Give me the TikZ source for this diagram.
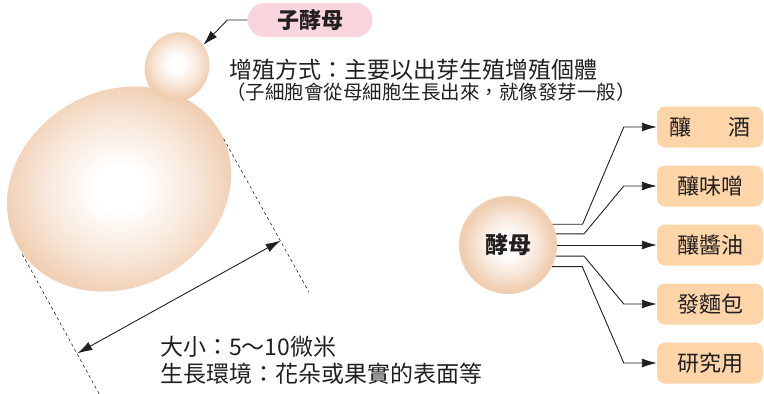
\documentclass[tikz,border=0pt]{standalone}
\usepackage{fontspec}
\setmainfont{Noto Sans CJK TC}
\usepackage{xcolor}
\usetikzlibrary{arrows.meta, positioning, shapes.geometric, calc}
\definecolor{peach}{RGB}{240,206,178}
\colorlet{peachmid}{peach!50!white}
\definecolor{pinkpill}{RGB}{249,213,222}
\definecolor{boxorange}{RGB}{253,213,168}
\definecolor{ink}{RGB}{35,31,32}
\pgfdeclareradialshading{cellball}{\pgfpoint{0bp}{0bp}}{color(0bp)=(white); color(5bp)=(white); color(15bp)=(peachmid); color(23bp)=(peach); color(50bp)=(peach)}

\begin{document}
\begin{tikzpicture}[x=1pt, y=-1pt,
  cell/.style={ellipse, inner sep=0pt, shade, shading=cellball},
  note/.style={anchor=west, inner sep=0pt, text=ink},
  usebox/.style={rounded corners=8pt, fill=boxorange, minimum width=106pt, minimum height=41pt, inner sep=0pt, text=ink, font=\fontsize{22}{26}\selectfont},
  flow/.style={-{Latex[length=15pt, width=9pt]}, line width=0.9pt, draw=ink}]
\useasboundingbox (0,0) rectangle (764,394);

% mother cell and bud
\node[cell, rotate=29, minimum width=232pt, minimum height=196pt] (mother) at (119,189) {};
\node[cell, rotate=-20, minimum width=64pt, minimum height=70pt] (bud) at (177,67) {};

\node[fill=pinkpill, rounded corners=17pt, minimum width=125pt, minimum height=34pt, text=ink, font=\bfseries\fontsize{22}{26}\selectfont] (budname) at (310,20) {子酵母};
\draw[flow] (budname.west) -- ++(-20,0) -- (bud.60);

\node[note, font=\fontsize{23}{27}\selectfont] (how) at (229,70) {增殖方式：主要以出芽生殖增殖個體};
\node[note, font=\fontsize{19.5}{23}\selectfont] (howmore) at (226,92) {（子細胞會從母細胞生長出來，就像發芽一般）};

% size
\draw[dashed, ink, line width=0.6pt] ([shift={(5,9)}]mother.west) -- ++(82,149);
\draw[dashed, ink, line width=0.6pt] ([shift={(3,6)}]mother.east) -- ++(85,153);
\draw[{Latex[length=15pt, width=9pt]}-{Latex[length=15pt, width=9pt]}, line width=0.9pt, ink] ([shift={(60,108)}]mother.west) -- ([shift={(60,108)}]mother.east);

\node[note, font=\fontsize{23}{27}\selectfont] (size) at (160,347) {大小：5～10微米};
\node[note, font=\fontsize{23}{27}\selectfont] (habitat) at (160,374) {生長環境：花朵或果實的表面等};

% uses
\node[cell, circle, minimum size=98pt, text=ink, font=\bfseries\fontsize{23}{27}\selectfont] (yeast) at (508,245) {酵母};

\node[usebox] (wine) at (710,127) {釀\hspace{1.7em}酒};
\node[usebox] (miso) at (710,186) {釀味噌};
\node[usebox] (soy) at (710,245) {釀醬油};
\node[usebox] (bread) at (710,304) {發麵包};
\node[usebox] (lab) at (710,363) {研究用};

\draw[flow] (yeast.25) -- ++(30,0) -- ([xshift=-33pt]wine.west) -- (wine.west);
\draw[flow] (yeast.13) -- ++(28,0) -- ([xshift=-33pt]miso.west) -- (miso.west);
\draw[flow] (yeast.east) -- (soy.west);
\draw[flow] (yeast.-13) -- ++(28,0) -- ([xshift=-33pt]bread.west) -- (bread.west);
\draw[flow] (yeast.-26) -- ++(30,0) -- ([xshift=-33pt]lab.west) -- (lab.west);
\end{tikzpicture}
\end{document}
